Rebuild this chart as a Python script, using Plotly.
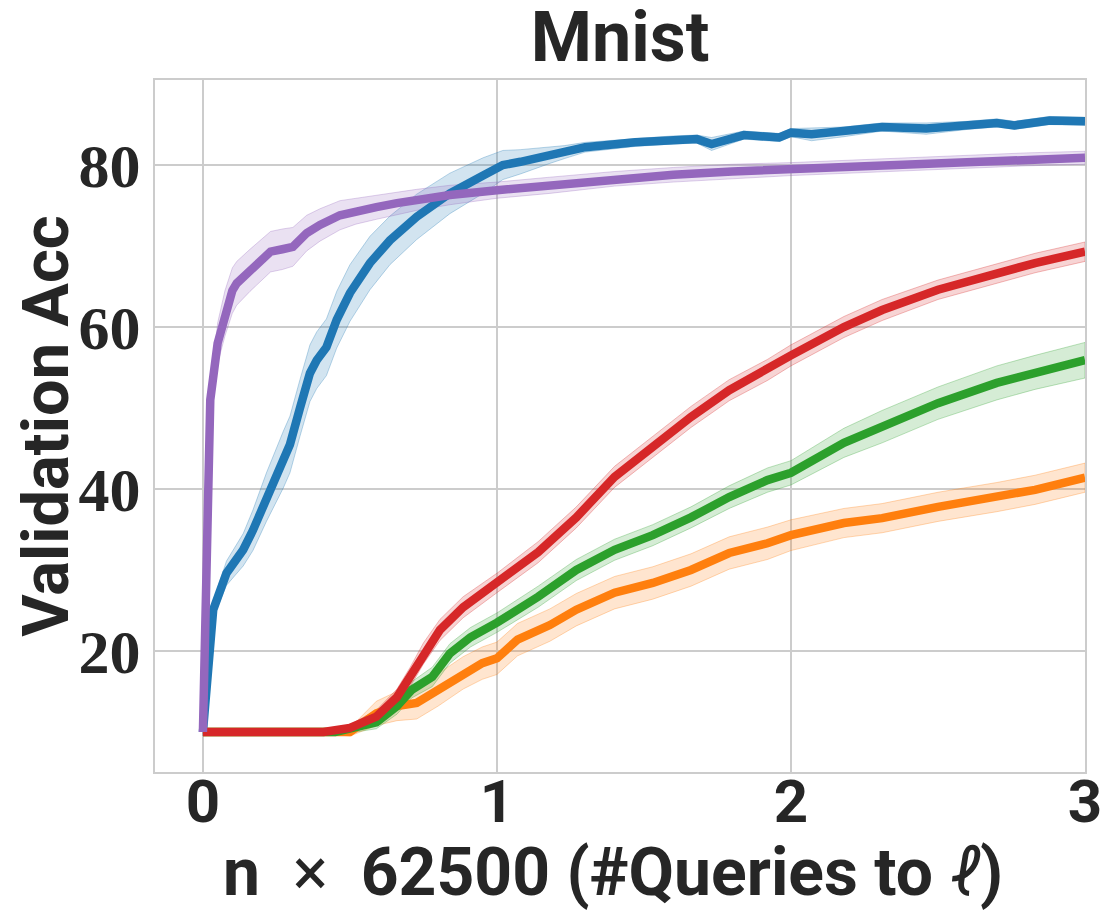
import plotly.graph_objects as go

# ---------------- data ----------------
purple_x = [0, 0.025, 0.05, 0.075, 0.1, 0.115, 0.16, 0.2, 0.23, 0.27, 0.306, 0.353, 0.398, 0.466, 0.52,
            0.59, 0.66, 0.727, 0.84, 1.0, 1.18, 1.4, 1.6, 1.8, 2.0, 2.2, 2.4, 2.6, 2.8, 3.0]
purple_y = [10, 51, 58, 61.7, 64.5, 65.4, 67, 68.3, 69.3, 69.6, 69.9, 71.6, 72.6, 73.8, 74.3,
            74.8, 75.3, 75.7, 76.3, 76.9, 77.5, 78.3, 78.8, 79.2, 79.5, 79.8, 80.1, 80.4, 80.7, 80.9]
purple_sd = [0.3, 1.5, 2.5, 2.8, 2.8, 2.7, 2.6, 2.5, 2.5, 2.5, 2.4, 2.2, 2.0, 1.8, 1.6,
             1.5, 1.4, 1.3, 1.2, 1.0, 1.0, 0.9, 0.9, 0.9, 0.8, 0.8, 0.8, 0.8, 0.8, 0.8]

blue_x = [0, 0.035, 0.08, 0.137, 0.17, 0.216, 0.273, 0.296, 0.33, 0.364, 0.387, 0.42, 0.455, 0.5,
          0.568, 0.636, 0.727, 0.84, 0.953, 1.02, 1.08, 1.18, 1.23, 1.3, 1.47, 1.6, 1.68, 1.73,
          1.84, 1.96, 2.0, 2.07, 2.18, 2.31, 2.46, 2.6, 2.7, 2.76, 2.88, 3.0]
blue_y = [10, 25.1, 29.6, 32.5, 34.9, 39, 43.6, 45.5, 50, 54.3, 55.9, 57.5, 60.9, 64.2,
          67.9, 70.7, 73.6, 76.5, 78.7, 80, 80.4, 81.2, 81.6, 82.2, 82.8, 83.1, 83.2, 82.6,
          83.7, 83.4, 84, 83.8, 84.1, 84.7, 84.5, 84.9, 85.2, 84.9, 85.5, 85.4]
blue_sd = [0.5, 1.0, 1.5, 2.0, 2.5, 3.0, 3.5, 3.5, 3.5, 3.5, 3.5, 3.5, 3.5, 3.5,
           3.3, 3.0, 2.8, 2.5, 2.2, 1.8, 1.5, 1.0, 0.8, 0.6, 0.5, 0.5, 0.5, 0.8,
           0.5, 0.5, 0.5, 0.8, 0.6, 0.5, 0.7, 0.5, 0.5, 0.5, 0.5, 0.5]

red_x = [0, 0.2, 0.41, 0.5, 0.59, 0.66, 0.705, 0.75, 0.806, 0.885, 1.0, 1.14, 1.27, 1.4, 1.53,
         1.66, 1.79, 1.92, 2.0, 2.18, 2.31, 2.5, 2.7, 2.83, 3.0]
red_y = [10, 10, 10, 10.5, 11.9, 14.3, 16.8, 19.7, 22.6, 25.4, 28.4, 32.2, 36.5, 41.5, 45.2,
         48.9, 52.2, 54.7, 56.5, 60, 62.1, 64.6, 66.6, 67.9, 69.3]
red_sd = [0.2, 0.2, 0.2, 0.4, 0.8, 1.0, 1.2, 1.3, 1.3, 1.3, 1.2, 1.3, 1.3, 1.3, 1.3,
          1.3, 1.3, 1.3, 1.3, 1.3, 1.3, 1.2, 1.2, 1.2, 1.2]

green_x = [0, 0.45, 0.52, 0.59, 0.66, 0.71, 0.78, 0.84, 0.91, 1.0, 1.14, 1.27, 1.4, 1.53, 1.66,
           1.79, 1.92, 2.0, 2.18, 2.31, 2.5, 2.7, 2.83, 3.0]
green_y = [10, 10, 10.6, 11.2, 13.2, 15.2, 16.8, 19.7, 21.7, 23.5, 26.7, 30, 32.5, 34.3, 36.5,
           39, 41.1, 42, 45.7, 47.7, 50.6, 53.1, 54.4, 55.9]
green_sd = [0.2, 0.3, 0.6, 0.8, 1.0, 1.0, 1.2, 1.2, 1.2, 1.2, 1.3, 1.3, 1.3, 1.3, 1.3,
            1.4, 1.5, 1.5, 1.8, 2.0, 2.0, 2.1, 2.1, 2.2]

orange_x = [0, 0.45, 0.5, 0.59, 0.66, 0.727, 0.8, 0.885, 0.95, 1.0, 1.07, 1.18, 1.27, 1.4, 1.53,
            1.66, 1.79, 1.92, 2.0, 2.18, 2.31, 2.5, 2.7, 2.83, 3.0]
orange_y = [10, 10, 10, 12.3, 13.2, 13.6, 15.2, 17.3, 18.5, 19.1, 21.4, 23.2, 25.1, 27.2, 28.4,
            30, 32.1, 33.3, 34.3, 35.8, 36.4, 37.8, 39, 39.9, 41.4]
orange_sd = [0.2, 0.3, 0.5, 1.5, 1.8, 2.0, 2.0, 2.0, 2.0, 2.0, 2.0, 2.0, 2.0, 2.0, 2.0,
             2.0, 2.0, 2.0, 1.9, 1.8, 1.8, 1.8, 1.8, 1.8, 1.8]

x_ticks = [0, 1, 2, 3]
y_ticks = [20, 40, 60, 80]
title_text = "Mnist"
x_label_parts = ("n", "\u00d7", "62500 (#Queries to", "\u2113", ")")
y_label = "Validation Acc"

# ---------------- figure ----------------
series = [
    (blue_x, blue_y, blue_sd, (31, 119, 180)),
    (orange_x, orange_y, orange_sd, (255, 127, 14)),
    (green_x, green_y, green_sd, (44, 160, 44)),
    (red_x, red_y, red_sd, (214, 39, 40)),
    (purple_x, purple_y, purple_sd, (148, 103, 189)),
]

fig = go.Figure()
for xs, ys, sds, (r, g, b) in series:
    upper = [m + s for m, s in zip(ys, sds)]
    lower = [m - s for m, s in zip(ys, sds)]
    fig.add_trace(go.Scatter(
        x=list(xs) + list(xs)[::-1], y=upper + lower[::-1],
        fill="toself", fillcolor=f"rgba({r},{g},{b},0.2)",
        line=dict(color=f"rgba({r},{g},{b},0.3)", width=1),
        mode="lines", hoverinfo="skip", showlegend=False))
for xs, ys, sds, (r, g, b) in series:
    fig.add_trace(go.Scatter(
        x=xs, y=ys, mode="lines",
        line=dict(color=f"rgb({r},{g},{b})", width=8.5),
        showlegend=False))

n_, times_, rest_, ell_, close_ = x_label_parts
nb = "\u00a0"
x_label_html = (f"<b>{n_}</b>{nb*2}{times_}{nb*2}<b>{rest_}</b>{nb}"
                f"<i>{ell_}</i><b>{close_}</b>")

W, H = 1110, 914
PL, PT, PR, PB = 147, 72, 1077, 764   # plot area in figure pixels
fig.update_layout(
    width=W, height=H,
    margin=dict(l=PL, r=W - PR, t=PT, b=H - PB),
    paper_bgcolor="white", plot_bgcolor="white",
    title=dict(text=f"<b>{title_text}</b>", x=(PL + PR) / 2 / W, xanchor="center",
               y=1 - 4 / H, yanchor="top", yref="container", pad=dict(t=0),
               font=dict(family="Roboto", size=70, color="#262626")),
    annotations=[dict(
        text=x_label_html, xref="paper", yref="paper",
        x=(605 - PL) / (PR - PL), y=-(864 - PB) / (PB - PT),
        xanchor="center", yanchor="middle", showarrow=False,
        font=dict(family="Roboto", size=66, color="#262626"))],
)
fig.update_xaxes(
    range=[-0.163, 3.0], tickvals=x_ticks, ticktext=[f"<b>{t}</b>" for t in x_ticks],
    tickfont=dict(family="Roboto", size=60, color="#262626"),
    showgrid=True, gridcolor="#cccccc", gridwidth=1.5, zeroline=False,
    showline=True, linecolor="#cccccc", linewidth=2, mirror=True, ticks="", ticklen=0,
    ticklabelstandoff=-24,
)
fig.update_yaxes(
    range=[5.06, 90.5], tickvals=y_ticks, ticktext=[f"<b>{t}</b>" for t in y_ticks],
    tickfont=dict(family="Liberation Serif", size=62, color="#262626"),
    showgrid=True, gridcolor="#cccccc", gridwidth=1.5, zeroline=False,
    showline=True, linecolor="#cccccc", linewidth=2, mirror=True, ticks="", ticklen=0,
    title=dict(text=f"<b>{y_label}</b>", font=dict(family="Roboto", size=65, color="#262626"),
               standoff=12),
)

fig.write_html("out.html")
